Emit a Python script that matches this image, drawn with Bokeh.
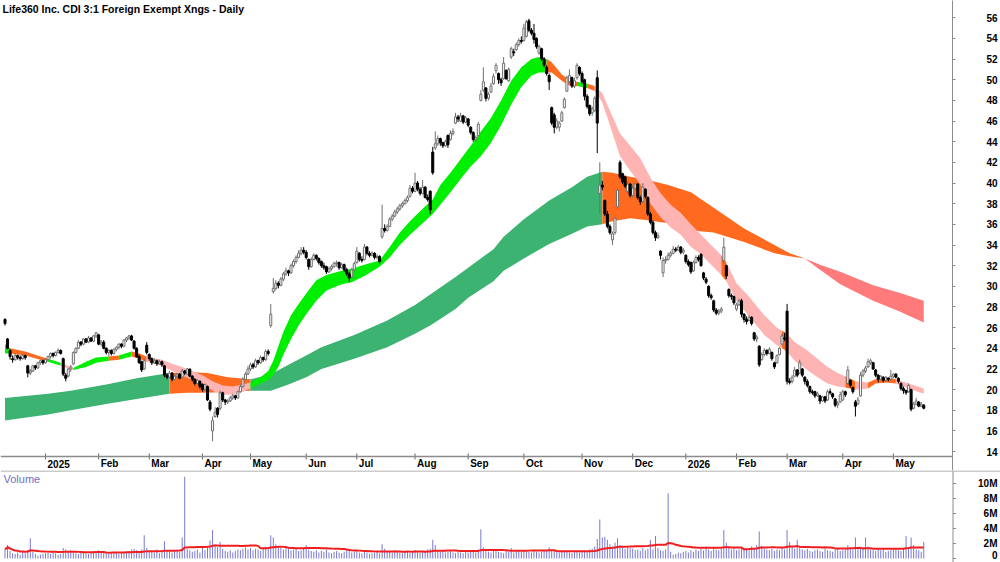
import numpy as np
import pandas as pd
from bokeh.plotting import figure
from bokeh.layouts import column
from bokeh.models import Range1d, FixedTicker, Label, ColumnDataSource, Span
from bokeh.core.properties import value
from bokeh.embed import file_html
from bokeh.resources import INLINE

TITLE = "Life360 Inc. CDI 3:1 Foreign Exempt Xngs - Daily"
FIRST_DAY = "2024-12-06"
LAST_DAY = "2026-05-19"
HOLIDAYS = ["2024-12-25", "2024-12-26", "2025-01-01", "2025-01-27", "2025-04-18",
            "2025-04-21", "2025-04-25", "2025-06-09", "2025-12-25", "2025-12-26",
            "2026-01-01", "2026-01-26", "2026-04-03", "2026-04-06"]

opens = [
    26.8, 24.9, 23.8, 23.0, 22.9, 23.3, 23.1, 23.0, 23.3, 22.3, 21.6, 21.8, 22.3, 22.1, 22.6, 22.8,
    22.6, 22.9, 23.2, 23.5, 23.3, 23.6, 23.8, 23.0, 21.4, 21.3, 22.0, 22.5, 23.6, 24.0, 24.6, 24.4, 24.9, 24.6, 25.0, 24.7, 25.2,
    25.3, 24.4, 24.6, 24.0, 23.6, 23.8, 23.5, 23.9, 24.1, 24.4, 24.2, 24.8, 25.0, 25.2, 24.7, 24.0, 23.2, 22.7, 22.0, 24.3,
    23.4, 23.0, 22.6, 22.8, 22.5, 22.7, 22.3, 21.4, 21.2, 21.6, 21.0, 21.3, 21.5, 21.2, 21.8, 21.5, 22.0, 21.3, 21.0, 20.6, 20.8,
    20.5, 20.0, 20.3, 18.8, 16.0, 17.4, 18.2, 18.2, 19.7, 19.0, 18.8, 18.9, 19.2, 19.4, 19.2, 19.8, 20.3, 21.0, 21.5,
    22.0, 22.4, 22.2, 22.8, 22.6, 23.1, 22.9, 23.7, 26.2, 29.5, 29.8, 30.3, 30.1, 30.7, 31.2, 31.5, 31.3, 32.0, 32.4, 32.8, 33.2, 33.5,
    33.3, 32.6, 31.9, 32.6, 33.0, 32.7, 32.4, 32.0, 31.9, 31.4, 31.7, 31.9, 32.2, 32.3, 31.8, 32.1, 31.6, 31.2, 30.9, 31.6,
    32.3, 33.2, 32.6, 32.6, 33.8, 33.2, 33.0, 33.2, 32.8, 32.9, 34.8, 35.6, 35.4, 35.8, 36.5, 36.8, 37.2, 37.5, 37.8, 38.0, 38.3, 38.7, 39.5,
    39.2, 40.0, 39.4, 39.0, 39.6, 38.6, 39.2, 43.0, 43.4, 43.8, 44.3, 43.9, 43.6, 44.6, 44.2, 44.8, 45.8, 46.4, 46.0, 46.5, 45.9,
    46.2, 45.4, 44.9, 44.2, 44.6, 48.0, 49.0, 49.2, 48.2, 48.8, 49.6, 50.9, 50.6, 50.0, 50.1, 50.9, 49.9, 52.2, 52.7, 52.9, 53.4, 53.8,
    53.8, 54.2, 55.7, 54.8, 54.5, 54.0, 52.6, 53.0, 52.0, 51.2, 50.4, 47.3, 46.6, 45.4, 45.4, 46.0, 47.3, 48.9, 49.8, 50.2, 49.4, 50.2, 51.2,
    50.6, 50.0, 48.4, 47.5, 46.8, 47.0, 50.2, 39.0, 39.8, 38.3, 37.0, 35.8, 34.5, 35.2, 37.7, 42.0, 40.9, 40.6, 39.2, 39.9,
    38.8, 39.5, 39.9, 38.6, 38.2, 39.4, 38.6, 37.0, 36.2, 35.2, 34.7, 33.4, 31.3, 32.5, 32.6, 33.0, 33.2, 33.6, 33.5, 33.8, 33.3,
    33.0, 32.4, 32.3, 31.5, 32.3, 32.8, 33.1, 31.3, 30.7, 30.0, 29.1, 28.6, 27.7, 27.4, 27.6, 32.5, 32.0, 29.7, 29.1, 29.0,
    27.8, 28.2, 28.6, 27.3, 26.8, 26.7, 27.0, 25.5, 24.9, 24.2, 22.9, 23.4, 23.8, 23.5, 23.6, 22.6, 22.6, 23.4, 24.4, 25.0,
    27.6, 20.8, 20.8, 21.3, 21.9, 21.6, 22.0, 21.2, 20.8, 20.3, 19.8, 19.8, 19.4, 19.4, 18.9, 19.3, 19.0, 19.8, 19.6, 19.1, 18.5, 18.8,
    19.0, 19.8, 20.6, 20.9, 20.2, 18.8, 18.6, 19.4, 21.4, 21.8, 22.2, 22.6, 22.6, 21.9, 21.4, 21.0, 21.2, 20.9, 21.1, 21.0,
    21.3, 21.5, 21.1, 20.6, 20.1, 19.9, 19.8, 20.0, 18.2, 18.6, 18.8, 18.4, 18.5,
]
highs = [
    26.9, 25.0, 23.9, 23.3, 23.5, 23.4, 23.3, 23.5, 23.4, 22.4, 22.0, 22.4, 22.4, 22.7, 22.9, 22.9,
    23.0, 23.3, 23.6, 23.6, 23.7, 24.0, 23.9, 23.1, 21.6, 22.1, 22.4, 23.7, 24.1, 24.8, 24.7, 25.0, 25.0, 25.2, 25.1, 25.3, 25.6,
    25.4, 24.8, 24.8, 24.1, 23.9, 23.9, 24.0, 24.2, 24.5, 24.5, 24.9, 25.1, 25.3, 25.3, 24.8, 24.1, 23.4, 22.8, 23.0, 24.6,
    23.5, 23.1, 23.0, 22.9, 22.9, 22.8, 22.4, 21.6, 21.8, 21.7, 21.4, 21.6, 21.6, 22.0, 21.9, 22.1, 22.0, 21.4, 21.1, 21.0, 20.9,
    20.6, 20.6, 20.4, 19.0, 17.4, 18.3, 18.3, 19.9, 19.8, 19.1, 19.1, 19.4, 19.6, 19.5, 19.9, 20.5, 21.2, 21.7, 22.3,
    22.6, 22.6, 23.0, 22.9, 23.3, 23.2, 23.9, 23.9, 28.3, 30.8, 30.6, 30.5, 30.9, 31.4, 31.8, 31.6, 32.2, 32.6, 33.0, 33.5, 33.8, 33.8,
    33.5, 32.7, 32.8, 33.2, 33.1, 32.8, 32.5, 32.3, 32.0, 31.9, 32.1, 32.4, 32.5, 32.4, 32.3, 32.2, 31.8, 31.4, 31.8, 32.4,
    33.8, 33.3, 32.9, 34.1, 33.9, 33.4, 33.4, 33.3, 33.1, 33.0, 37.9, 36.0, 36.0, 36.7, 37.0, 37.4, 37.7, 38.0, 38.2, 38.5, 38.8, 39.8, 39.7,
    41.0, 40.2, 39.6, 40.3, 39.7, 38.9, 39.3, 43.5, 45.0, 44.6, 44.4, 44.0, 44.2, 44.7, 45.1, 45.3, 46.8, 46.6, 46.8, 46.6, 46.5,
    46.3, 45.5, 45.0, 44.6, 45.9, 49.0, 51.2, 49.3, 48.8, 49.7, 50.6, 51.6, 50.7, 50.2, 52.2, 51.0, 51.2, 53.2, 53.0, 53.6, 54.0, 54.2,
    55.4, 55.8, 55.9, 55.0, 55.4, 54.1, 53.4, 53.1, 52.2, 51.4, 50.6, 47.4, 46.8, 46.3, 46.0, 47.0, 48.3, 50.4, 51.0, 50.3, 50.2, 51.6, 51.3,
    50.8, 50.1, 48.6, 47.6, 47.4, 48.4, 50.9, 42.0, 40.2, 38.4, 37.3, 36.0, 35.3, 36.7, 39.4, 42.2, 41.0, 40.7, 40.1, 40.0,
    39.8, 40.1, 40.0, 38.8, 40.0, 39.5, 38.7, 37.2, 36.4, 35.4, 35.2, 33.5, 32.8, 32.9, 33.3, 33.4, 33.9, 33.8, 34.0, 33.9, 33.7,
    33.1, 32.6, 32.4, 32.5, 33.0, 33.0, 33.2, 31.4, 30.9, 30.1, 29.3, 28.7, 27.9, 27.8, 28.0, 34.7, 32.1, 29.8, 29.3, 29.1,
    28.4, 28.8, 28.8, 27.4, 27.1, 27.2, 27.1, 25.6, 25.3, 24.3, 23.6, 24.0, 23.9, 24.1, 23.7, 22.7, 23.4, 24.1, 25.4, 25.5,
    28.3, 21.1, 21.4, 22.2, 22.0, 22.9, 22.1, 21.3, 21.0, 20.4, 20.0, 19.9, 19.8, 19.5, 19.4, 19.4, 20.0, 20.1, 19.7, 19.2, 18.9, 19.8,
    20.0, 19.9, 22.3, 21.0, 20.3, 19.0, 19.3, 21.7, 22.0, 22.3, 23.0, 23.0, 22.7, 22.0, 21.5, 21.4, 21.3, 21.3, 21.2, 21.9,
    21.6, 21.6, 21.2, 20.7, 20.3, 20.0, 20.6, 20.1, 18.8, 19.2, 18.9, 18.8, 18.6,
]
lows = [
    26.2, 23.9, 22.9, 22.6, 22.8, 22.9, 22.8, 22.9, 22.9, 21.2, 21.4, 21.7, 21.9, 22.0, 22.4, 22.4,
    22.5, 22.8, 23.0, 23.1, 23.2, 23.5, 23.4, 21.3, 20.8, 21.2, 21.7, 22.4, 23.5, 23.9, 24.2, 24.3, 24.5, 24.5, 24.6, 24.6, 25.0,
    24.3, 24.2, 23.9, 23.4, 23.2, 23.3, 23.4, 23.7, 23.9, 24.0, 24.1, 24.6, 24.8, 24.7, 23.9, 23.1, 22.5, 21.7, 21.9, 23.4,
    22.8, 22.4, 22.5, 22.3, 22.4, 22.2, 21.2, 21.0, 21.1, 20.8, 20.9, 21.1, 21.0, 21.1, 21.4, 21.4, 21.2, 20.8, 20.4, 20.5, 20.1,
    19.8, 19.9, 18.9, 17.9, 15.0, 17.3, 17.3, 18.0, 18.8, 18.5, 18.6, 18.8, 19.0, 19.0, 19.1, 19.7, 20.2, 20.9, 21.4,
    21.8, 22.0, 22.1, 22.4, 22.5, 22.7, 22.8, 23.3, 26.0, 29.3, 29.6, 29.8, 30.0, 30.5, 31.0, 31.0, 31.2, 31.8, 32.2, 32.7, 33.0, 33.1,
    32.6, 31.6, 31.8, 32.5, 32.5, 32.1, 31.8, 31.6, 31.2, 31.3, 31.5, 31.8, 31.9, 31.6, 31.7, 31.4, 31.0, 30.4, 30.8, 31.5,
    32.2, 32.4, 32.3, 32.5, 33.0, 32.8, 32.9, 32.6, 32.6, 32.2, 34.6, 35.2, 35.3, 35.7, 36.3, 36.7, 37.0, 37.3, 37.6, 37.9, 38.1, 38.6, 39.0,
    39.1, 39.2, 38.8, 38.9, 38.5, 38.2, 37.0, 40.8, 43.2, 43.6, 43.6, 43.4, 43.5, 43.4, 44.1, 44.6, 45.7, 45.9, 45.9, 45.7, 45.8,
    45.4, 44.7, 44.0, 44.0, 44.5, 47.9, 48.8, 47.9, 48.0, 48.7, 49.5, 50.6, 49.6, 49.4, 50.0, 50.0, 49.8, 52.0, 52.3, 52.8, 53.2, 53.5,
    53.7, 54.1, 54.6, 54.3, 53.5, 53.0, 52.4, 51.8, 51.2, 50.4, 49.0, 45.6, 44.8, 45.2, 45.0, 45.9, 47.2, 48.8, 49.7, 49.2, 49.2, 50.0, 50.4,
    49.6, 48.0, 47.2, 46.5, 46.5, 46.9, 42.9, 37.0, 39.3, 36.8, 35.6, 35.0, 34.0, 35.0, 37.5, 40.4, 39.9, 39.5, 39.0, 38.6,
    38.6, 39.3, 38.4, 37.9, 38.1, 38.5, 36.8, 36.0, 35.0, 34.4, 34.6, 32.6, 30.9, 32.2, 32.5, 32.8, 33.1, 33.3, 33.4, 33.1, 33.1,
    32.2, 31.9, 31.2, 31.4, 32.2, 32.4, 31.9, 30.6, 30.2, 28.9, 28.7, 27.5, 27.2, 27.2, 27.4, 32.2, 30.7, 28.9, 28.7, 28.2,
    27.6, 28.1, 27.0, 26.5, 26.3, 26.6, 26.2, 24.7, 24.6, 22.2, 22.8, 23.2, 23.3, 23.4, 22.8, 22.0, 22.5, 23.3, 24.3, 24.7,
    20.5, 20.5, 20.6, 21.2, 21.2, 21.5, 21.2, 20.5, 20.2, 19.6, 19.5, 19.2, 19.3, 18.6, 18.8, 18.7, 18.9, 19.5, 19.1, 18.3, 18.2, 18.7,
    18.9, 19.3, 20.5, 20.2, 19.6, 17.4, 18.5, 19.3, 21.2, 21.6, 22.1, 22.4, 21.9, 21.2, 20.7, 20.9, 20.7, 20.8, 20.8, 20.9,
    21.1, 21.1, 20.6, 19.9, 19.6, 19.5, 19.7, 17.9, 18.1, 18.5, 18.3, 18.3, 18.1,
]
closes = [
    26.4, 24.0, 23.2, 22.9, 23.3, 23.1, 23.0, 23.3, 23.1, 21.6, 21.8, 22.3, 22.1, 22.6, 22.8, 22.6,
    22.9, 23.2, 23.5, 23.3, 23.6, 23.8, 23.5, 21.5, 21.1, 22.0, 22.2, 23.6, 24.0, 24.6, 24.4, 24.9, 24.6, 25.0, 24.7, 25.2, 25.5,
    24.4, 24.6, 24.0, 23.6, 23.8, 23.5, 23.9, 24.1, 24.4, 24.2, 24.8, 25.0, 25.2, 24.8, 24.0, 23.2, 22.6, 21.9, 22.8, 23.6,
    23.0, 22.6, 22.8, 22.5, 22.7, 22.4, 21.4, 21.2, 21.6, 21.0, 21.3, 21.5, 21.1, 21.8, 21.6, 22.0, 21.3, 21.0, 20.6, 20.9, 20.3,
    20.0, 20.5, 19.0, 18.1, 17.0, 17.8, 17.6, 19.7, 19.0, 18.8, 18.9, 19.2, 19.4, 19.2, 19.8, 20.3, 21.0, 21.5, 22.0,
    22.4, 22.2, 22.8, 22.6, 23.1, 22.9, 23.7, 23.5, 27.3, 29.8, 30.3, 30.1, 30.7, 31.2, 31.5, 31.3, 32.0, 32.4, 32.8, 33.2, 33.5, 33.3,
    32.8, 31.9, 32.6, 33.0, 32.7, 32.3, 32.0, 31.8, 31.4, 31.7, 31.9, 32.2, 32.3, 31.8, 32.1, 31.6, 31.2, 30.8, 31.6, 32.2,
    33.4, 32.6, 32.5, 33.8, 33.2, 33.0, 33.2, 32.8, 32.9, 32.4, 35.6, 35.4, 35.8, 36.5, 36.8, 37.2, 37.5, 37.8, 38.0, 38.3, 38.6, 39.5, 39.2,
    40.0, 39.4, 39.0, 39.6, 38.6, 38.4, 37.4, 41.0, 43.8, 44.3, 43.9, 43.6, 44.0, 43.7, 44.8, 45.0, 46.4, 46.2, 46.5, 45.9, 46.3,
    45.6, 44.9, 44.2, 44.4, 45.7, 48.6, 49.8, 48.2, 48.6, 49.4, 50.3, 51.4, 50.0, 49.7, 51.6, 50.1, 51.0, 53.0, 52.6, 53.4, 53.8, 53.7,
    55.0, 55.6, 54.8, 54.5, 53.9, 53.2, 53.2, 52.0, 51.4, 50.6, 49.8, 45.8, 45.4, 46.0, 45.8, 46.8, 48.1, 50.2, 50.4, 49.4, 49.9, 51.4, 50.6,
    49.8, 48.4, 47.4, 46.7, 47.2, 48.2, 45.8, 39.8, 39.6, 37.0, 35.8, 35.2, 35.1, 36.6, 39.3, 40.6, 40.1, 39.7, 39.9, 38.8,
    39.5, 39.9, 38.6, 38.2, 39.6, 38.7, 37.0, 36.2, 35.2, 34.7, 34.9, 33.0, 32.5, 32.6, 33.0, 33.2, 33.6, 33.5, 33.8, 33.3, 33.5,
    32.4, 32.1, 31.4, 32.3, 32.8, 32.6, 32.0, 30.8, 30.4, 29.1, 28.9, 27.7, 27.4, 27.6, 27.8, 33.8, 31.0, 29.1, 29.0, 28.4,
    28.2, 28.6, 27.3, 26.8, 26.6, 27.0, 26.4, 24.9, 25.1, 22.4, 23.4, 23.8, 23.5, 23.9, 23.0, 22.2, 23.3, 24.0, 25.2, 24.9,
    20.8, 20.7, 21.2, 21.9, 21.4, 22.6, 21.4, 20.8, 20.4, 19.8, 19.7, 19.4, 19.6, 18.9, 19.3, 18.9, 19.8, 19.7, 19.3, 18.5, 18.7, 19.5,
    19.8, 19.5, 21.9, 20.4, 19.8, 18.4, 19.0, 21.4, 21.8, 22.1, 22.7, 22.8, 22.0, 21.4, 21.0, 21.3, 20.9, 21.2, 21.0, 21.3,
    21.5, 21.2, 20.8, 20.1, 19.9, 19.7, 20.4, 18.1, 18.6, 18.9, 18.4, 18.6, 18.2,
]
volume_m = [
    1.2, 1.8, 1.0, 0.7, 0.6, 0.8, 0.5, 0.9, 0.7, 1.1, 2.7, 0.9, 0.6, 0.4, 0.5, 0.6,
    0.7, 0.8, 0.6, 0.9, 0.7, 0.5, 0.6, 1.4, 1.2, 0.9, 1.1, 0.8, 0.7, 0.6, 0.9, 0.8, 0.7, 0.6, 0.8, 1.0, 0.9,
    1.1, 0.9, 0.8, 0.7, 0.6, 0.8, 0.7, 0.9, 0.6, 0.7, 0.8, 0.9, 1.0, 1.2, 1.3, 1.1, 0.9, 1.2, 3.1, 1.4,
    1.0, 0.9, 0.8, 1.2, 0.7, 0.9, 2.3, 1.1, 0.9, 0.8, 1.0, 1.2, 0.9, 2.8, 10.9, 1.3, 1.1, 0.9, 1.0, 1.2, 0.8,
    1.4, 1.1, 1.6, 2.4, 3.8, 1.9, 1.5, 2.2, 1.3, 1.0, 0.9, 1.1, 0.8, 1.0, 1.2, 1.1, 1.3, 1.5, 1.2,
    1.4, 1.1, 1.3, 1.2, 1.0, 1.4, 1.6, 1.3, 3.1, 2.8, 1.9, 1.6, 1.4, 1.2, 1.5, 1.3, 1.1, 1.2, 1.4, 1.0, 1.1, 1.3,
    1.8, 1.2, 1.0, 0.9, 1.1, 0.8, 1.0, 0.9, 1.2, 0.8, 0.7, 0.9, 1.0, 0.8, 0.7, 0.9, 1.1, 1.3, 0.8, 0.9,
    1.0, 0.8, 0.7, 0.9, 0.8, 0.6, 0.7, 0.8, 0.9, 0.7, 1.9, 1.3, 1.0, 0.9, 0.8, 1.1, 0.9, 0.8, 0.7, 0.9, 1.0, 0.8, 0.9,
    1.1, 0.9, 0.8, 1.0, 0.9, 1.2, 1.3, 2.5, 1.8, 1.0, 0.9, 1.1, 0.8, 0.9, 1.0, 0.8, 0.7, 0.9, 0.8, 0.7, 1.0,
    0.8, 0.9, 1.0, 0.8, 1.2, 3.9, 1.5, 1.1, 0.9, 0.8, 1.0, 1.2, 0.9, 0.8, 0.7, 1.0, 0.9, 1.4, 0.8, 0.9, 1.0, 0.9,
    1.1, 1.0, 0.9, 0.8, 1.0, 0.9, 0.8, 0.9, 1.0, 1.1, 1.5, 1.2, 1.0, 0.9, 0.8, 1.1, 0.9, 1.0, 0.8, 0.7, 0.9, 1.0, 0.8,
    0.9, 1.1, 1.0, 1.2, 1.3, 1.6, 2.6, 5.2, 2.8, 2.9, 2.5, 1.9, 1.6, 2.1, 2.7, 1.8, 1.5, 1.3, 1.6, 1.4,
    1.3, 1.1, 1.2, 1.0, 1.4, 1.1, 1.3, 2.5, 1.2, 3.0, 1.4, 1.1, 1.0, 1.2, 8.7, 0.9, 0.5, 0.6, 0.8, 0.7, 0.9,
    1.0, 0.8, 1.1, 0.9, 1.2, 1.0, 1.3, 1.1, 1.6, 1.2, 1.0, 1.4, 1.2, 1.1, 1.3, 3.8, 2.1, 1.5, 1.2, 1.4,
    1.1, 1.2, 1.5, 1.3, 1.2, 1.1, 1.6, 1.4, 1.8, 3.6, 1.7, 1.3, 1.2, 1.1, 1.3, 1.0, 1.2, 1.1, 1.4, 1.2,
    3.8, 2.2, 1.5, 1.3, 2.5, 1.4, 1.2, 1.1, 1.3, 1.0, 0.9, 1.1, 1.2, 1.0, 0.9, 1.3, 1.1, 1.0, 0.9, 1.2, 1.4, 1.0,
    1.1, 1.2, 1.8, 1.3, 1.2, 2.8, 1.5, 1.4, 1.3, 2.8, 1.6, 1.2, 1.1, 1.0, 1.3, 1.1, 1.2, 0.9, 1.0, 1.1,
    1.2, 1.4, 1.1, 1.0, 1.3, 3.0, 1.5, 2.8, 1.8, 1.2, 1.1, 0.9, 2.2,
]

# short-term ribbon: bar index, upper edge, lower edge, state (G rising, O mixed, P falling)
sb_idx = [0, 2, 8, 14, 17, 22, 27, 32, 36, 41, 45, 50, 53, 56, 62, 66, 70, 74, 78, 82, 86, 90, 94,
          97, 101, 104, 106, 108, 110, 113, 116, 119, 123, 127, 133, 137, 142, 148, 152, 156, 160,
          165, 169, 172, 176, 180, 184, 188, 192, 196, 200, 204, 208, 211, 214, 216, 220, 224, 226,
          230, 233, 236, 239, 243, 247, 251, 255, 259, 263, 267, 271, 275, 279, 283, 285, 289, 294,
          300, 305, 307, 309, 312, 317, 321, 325, 329, 332, 336, 341, 344, 348, 352, 357, 363]
sb_top = [24.4, 24.0, 23.7, 23.2, 23.0, 22.6, 22.1, 22.7, 23.1, 23.2, 23.3, 23.7, 23.5, 23.2, 22.9,
          22.5, 22.2, 21.8, 21.4, 20.8, 20.4, 20.3, 20.5, 20.7, 21.2, 21.8, 22.8, 24.2, 25.6, 27.2,
          28.3, 29.3, 30.6, 31.1, 31.5, 31.7, 32.1, 32.5, 33.8, 35.2, 36.3, 37.5, 38.4, 39.8, 41.0,
          42.3, 43.6, 45.0, 46.3, 48.0, 49.9, 51.2, 52.0, 52.2, 52.0, 51.7, 50.5, 49.8, 49.8, 49.6,
          49.4, 48.7, 47.0, 44.8, 43.6, 42.4, 40.5, 39.0, 37.9, 37.1, 36.0, 35.0, 34.0, 33.0, 32.3,
          30.3, 29.0, 27.2, 26.0, 25.7, 25.4, 24.6, 23.8, 23.0, 22.2, 21.6, 21.3, 20.8, 20.7, 21.0,
          21.2, 21.0, 20.6, 20.1]
sb_bot = [23.5, 23.5, 23.3, 22.9, 22.7, 22.3, 21.9, 22.2, 22.6, 22.8, 22.9, 23.2, 23.0, 22.7, 22.3,
          21.8, 21.4, 20.9, 20.6, 19.9, 19.5, 19.5, 19.8, 20.1, 20.6, 20.9, 21.4, 22.2, 23.4, 24.9,
          26.2, 27.3, 28.6, 29.6, 30.2, 30.4, 31.0, 31.9, 32.8, 34.0, 35.0, 36.1, 37.0, 37.9, 39.1,
          40.4, 41.6, 42.6, 43.9, 45.6, 47.6, 49.3, 50.4, 50.7, 50.7, 50.7, 49.9, 49.3, 49.4, 49.2,
          48.9, 47.8, 45.6, 42.6, 41.2, 39.9, 38.0, 36.7, 35.7, 35.0, 33.8, 33.1, 32.1, 31.1, 30.5,
          28.6, 27.1, 25.3, 24.3, 24.0, 23.7, 22.8, 21.9, 21.2, 20.6, 20.3, 20.2, 20.0, 20.1, 20.6,
          20.7, 20.6, 20.1, 19.6]
sb_state = "GOOOGPGGGOGOOPPPPPPPPPPGGGGGGGGGGGGGGGGGGGGGGGGGGGGGGGOOOOGOPPPPPPPPPPPPPOPPPPPOPPPPPPOPOOOPPP"

# long-term ribbon: bar index, upper edge, lower edge, state (G rising, O mixed, R falling)
lb_idx = [0, 17, 26, 40, 52, 65, 72, 80, 88, 97, 105, 112, 119, 125, 138, 151, 162, 168, 178, 183,
          193, 197, 205, 215, 224, 230, 236, 240, 247, 254, 262, 271, 280, 292, 304, 310, 316, 322,
          330, 343, 353, 363]
lb_top = [19.2, 19.6, 19.9, 20.5, 21.1, 21.6, 21.7, 21.6, 21.2, 21.0, 21.5, 22.4, 23.3, 24.1, 25.3,
          26.7, 28.2, 29.2, 30.9, 31.8, 33.6, 34.8, 36.5, 38.3, 39.6, 40.6, 41.1, 41.0, 40.6, 40.3,
          39.8, 39.1, 37.6, 35.6, 34.0, 33.2, 32.7, 32.1, 31.4, 30.1, 29.4, 28.6]
lb_bot = [17.0, 17.6, 18.0, 18.6, 19.1, 19.6, 19.7, 19.7, 19.8, 19.9, 19.9, 20.5, 21.2, 22.0, 23.0,
          24.1, 25.4, 26.2, 27.8, 28.9, 30.5, 31.5, 32.7, 34.1, 35.1, 35.8, 36.0, 36.3, 36.6, 36.4,
          36.1, 35.4, 35.2, 34.3, 33.2, 32.9, 32.7, 31.6, 30.2, 28.6, 27.6, 26.5]
lb_state = "GGGGGOOOOGGGGGGGGGGGGGGGGGOOOOOOOOOORRRRRR"

price_ticks = list(range(14, 57, 2))
vol_ticks = [0, 2, 4, 6, 8, 10]
vol_tick_labels = ["0", "2M", "4M", "6M", "8M", "10M"]
month_abbr = ["Jan", "Feb", "Mar", "Apr", "May", "Jun", "Jul", "Aug", "Sep", "Oct", "Nov", "Dec"]

# ---------------------------------------------------------------- layout constants
PX = 2.531            # pixels per bar
PPY = 10.33           # pixels per price unit
VPY = 7.5             # pixels per million shares
X0 = -1.78
FRAME_W = 952
X1 = X0 + FRAME_W / PX
P_AX = 13.53          # price at the bottom axis line (y = 456 px)
P1 = 57.67            # price at the top of the page
P0 = P1 - 470 / PPY   # price frame extends down over the month label strip
V1 = (558 - 470) / VPY
V0 = -(562 - 558) / VPY
FONT = "Liberation Sans"

dates = pd.bdate_range(FIRST_DAY, LAST_DAY)
dates = dates[~dates.isin(pd.to_datetime(HOLIDAYS))]
n = min(len(dates), len(opens), len(highs), len(lows), len(closes), len(volume_m))
dates = dates[:n]
idx = np.arange(n)
O = np.array(opens[:n]); H = np.array(highs[:n]); L = np.array(lows[:n]); C = np.array(closes[:n])
V = np.array(volume_m[:n])

# month ticks
ser = pd.Series(idx, index=dates)
firsts = ser.groupby([dates.year, dates.month]).min()
month_ticks, month_labels = [], []
for (yy, mm), first in firsts.items():
    if yy == 2024:
        continue
    month_ticks.append(int(first))
    month_labels.append(str(yy) if mm == 1 else month_abbr[mm - 1])

p1 = figure(frame_width=FRAME_W, frame_height=470, x_range=Range1d(X0, X1), y_range=Range1d(P0, P1),
            y_axis_location="right", x_axis_location=None, toolbar_location=None,
            output_backend="svg",
            min_border_left=0, min_border_top=0, min_border_right=0, min_border_bottom=0,
            outline_line_color=None, background_fill_color="white", border_fill_color="white")
p1.grid.visible = False

SB_COLORS = {"G": "#00EE00", "O": "#FF6A1F", "P": "#FFB4B4"}
LB_COLORS = {"G": "#3CB371", "O": "#FF6A1F", "R": "#FF7B7B"}


def draw_band(p, xs, tops, bots, states, colors):
    k = 0
    m = len(xs)
    while k < m - 1:
        s = states[k]
        j = k
        while j < m - 1 and states[j] == s:
            j += 1
        p.varea(x=xs[k:j + 1], y1=bots[k:j + 1], y2=tops[k:j + 1],
                fill_color=colors[s], fill_alpha=1.0)
        k = j


draw_band(p1, lb_idx, lb_top, lb_bot, lb_state, LB_COLORS)
draw_band(p1, sb_idx, sb_top, sb_bot, sb_state, SB_COLORS)

up = C > O
dn = ~up
src_up = ColumnDataSource(dict(x=idx[up], hi=H[up], lo=L[up], top=C[up], bot=O[up]))
src_dn = ColumnDataSource(dict(x=idx[dn], hi=H[dn], lo=L[dn], top=O[dn], bot=C[dn]))
p1.segment(x0="x", y0="lo", x1="x", y1="hi", source=src_up, line_color="#707070", line_width=1)
p1.vbar(x="x", top="top", bottom="bot", width=0.8, source=src_up,
        fill_color="white", line_color="#707070", line_width=1)
p1.segment(x0="x", y0="lo", x1="x", y1="hi", source=src_dn, line_color="black", line_width=1)
p1.vbar(x="x", top="top", bottom="bot", width=0.8, source=src_dn,
        fill_color="black", line_color="black", line_width=1)

# price axis (right)
p1.yaxis.ticker = FixedTicker(ticks=price_ticks)
p1.yaxis.major_label_text_font = FONT
p1.yaxis.major_label_text_font_style = "bold"
p1.yaxis.major_label_text_font_size = "10px"
p1.yaxis.major_label_text_color = "black"
p1.yaxis.major_label_standoff = 31
p1.yaxis.major_tick_out = 3
p1.yaxis.major_tick_in = 0
p1.yaxis.minor_tick_out = 0
p1.yaxis.minor_tick_in = 0
p1.yaxis.axis_line_color = "#8c8c8c"
p1.yaxis.major_tick_line_color = "#8c8c8c"

# time axis drawn inside the frame: base line, month ticks and month labels
p1.add_layout(Span(location=P_AX, dimension="width", line_color="#8c8c8c", line_width=1.5))
p1.segment(x0=month_ticks, y0=[P_AX - 3 / PPY] * len(month_ticks),
           x1=month_ticks, y1=[P_AX + 3 / PPY] * len(month_ticks),
           line_color="#666666", line_width=1)
p1.text(x=[t + 0.8 for t in month_ticks], y=[P_AX - 7.5 / PPY] * len(month_ticks),
        text=month_labels, text_align="left", text_baseline="middle",
        text_font=value(FONT), text_font_style="bold", text_font_size="10px",
        text_color="black")

p1.add_layout(Label(x=X0 + 2 / PX, y=P1 - 8.7 / PPY, text=TITLE, text_baseline="middle",
                    text_align="left", text_font=FONT, text_font_style="bold",
                    text_font_size="10.5px", text_color="black"))

# ---------------------------------------------------------------- volume panel
p2 = figure(frame_width=1000, frame_height=92, x_range=Range1d(X0, X0 + 1000 / PX),
            y_range=Range1d(V0, V1), x_axis_location=None, y_axis_location=None,
            toolbar_location=None, output_backend="svg",
            min_border_left=0, min_border_top=0, min_border_bottom=0, min_border_right=0,
            outline_line_color=None, background_fill_color="white", border_fill_color="white")
p2.grid.visible = False

vol_ma = pd.Series(V).rolling(30, min_periods=1).mean().values
p2.segment(x0=idx, y0=np.zeros(n), x1=idx, y1=V, line_color="#7A7AD2", line_width=1)
p2.line(idx, vol_ma, line_color="#F01E1E", line_width=2)

X_AX = X0 + 952.5 / PX
p2.add_layout(Span(location=X_AX, dimension="height", line_color="#8c8c8c", line_width=1))
p2.add_layout(Span(location=V1 - 0.5 / VPY, dimension="width", line_color="#9a9a9a", line_width=1))
p2.segment(x0=[X_AX] * len(vol_ticks), y0=vol_ticks, x1=[X_AX + 3 / PX] * len(vol_ticks),
           y1=vol_ticks, line_color="#8c8c8c", line_width=1)
label_y = [max(v, 8.0 / VPY + V0) for v in vol_ticks]
p2.text(x=[X0 + 997 / PX] * len(vol_ticks), y=label_y, text=vol_tick_labels,
        text_align="right", text_baseline="middle", text_font=value(FONT),
        text_font_style="bold", text_font_size="10px", text_color="black")
p2.add_layout(Label(x=X0 + 3 / PX, y=V1 - 8 / VPY, text="Volume", text_baseline="middle",
                    text_align="left", text_font=FONT, text_font_size="11px",
                    text_color="#6E6EC4"))

layout = column(p1, p2, spacing=0)
open("out.html", "w").write(file_html(layout, INLINE))
